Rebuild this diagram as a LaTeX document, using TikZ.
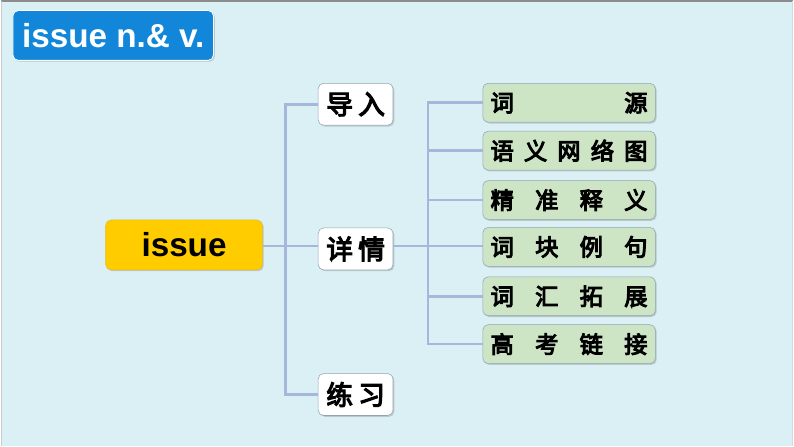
\documentclass[tikz,border=0pt]{standalone}
\usepackage{fontspec}
\setmainfont{Liberation Sans}
\newfontfamily\cjk{Noto Sans CJK SC}[AutoFakeBold=4.5]
\usetikzlibrary{shadows}
\definecolor{bg}{HTML}{DAF0F4}
\definecolor{titleblue}{HTML}{1286D8}
\definecolor{yel}{HTML}{FFCC00}
\definecolor{grn}{HTML}{CDE4C5}
\definecolor{conncol}{HTML}{A3B8DA}
\definecolor{boxline}{HTML}{8FA5B5}
\tikzset{
  shadowed/.style={drop shadow={shadow xshift=1pt,shadow yshift=-1pt,opacity=0.35,fill=gray}},
  titlebox/.style={fill=titleblue,draw=white,line width=0.6pt,rounded corners=4pt,shadowed,
    minimum width={201*0.75pt},minimum height={50*0.75pt},inner sep=0pt,
    font=\fontsize{25}{28}\selectfont\bfseries,text=white},
  mainbox/.style={fill=yel,draw=yel!80!gray,rounded corners=4pt,shadowed,
    minimum width={157*0.75pt},minimum height={50*0.75pt},inner sep=0pt,
    font=\fontsize{25}{28}\selectfont\bfseries},
  midbox/.style={fill=white,draw=boxline,rounded corners=4pt,shadowed,
    minimum width={75*0.75pt},minimum height={42*0.75pt},inner sep=0pt,
    font=\cjk\fontsize{20}{22}\selectfont\bfseries},
  leafbox/.style={fill=grn,draw=boxline,rounded corners=4pt,shadowed,
    minimum width={173*0.75pt},minimum height={39*0.75pt},inner sep=0pt,
    font=\cjk\fontsize{17.5}{20}\selectfont\bfseries},
  conn/.style={draw=conncol,line width=2pt}
}
\newcommand{\spr}[1]{\makebox[118pt][s]{#1}}
\newcommand{\mspr}[1]{\makebox[44pt][s]{#1}}
\begin{document}
\begin{tikzpicture}[x=0.75pt,y=-0.75pt]
\fill[bg] (0,0) rectangle (794,447);
\draw[draw=black!45,line width=1.5pt] (0,0.5) -- (794,0.5);
\draw[draw=black!20,line width=0.8pt] (0.5,0) -- (0.5,447);
\draw[draw=black!15,line width=0.8pt] (793.5,0) -- (793.5,447);
\useasboundingbox (0,0) rectangle (794,447);

\coordinate (j1) at (285,246);
\coordinate (j2) at (428,246);

\node[titlebox] (title) at (112.5,35) {issue n.\& v.};
\node[mainbox] (issue) at (183.5,245) {issue};
\node[midbox] (daoru) at (355.5,104) {\mspr{导\hfill 入}};
\node[midbox] (xq) at (355.5,249) {\mspr{详\hfill 情}};
\node[midbox] (lx) at (355.5,395) {\mspr{练\hfill 习}};

\node[leafbox] (l1) at (569.5,102.5) {\spr{词\hfill 源}};
\node[leafbox] (l2) at (569.5,150.5) {\spr{语\hfill 义\hfill 网\hfill 络\hfill 图}};
\node[leafbox] (l3) at (569.5,200) {\spr{精\hfill 准\hfill 释\hfill 义}};
\node[leafbox] (l4) at (569.5,247) {\spr{词\hfill 块\hfill 例\hfill 句}};
\node[leafbox] (l5) at (569.5,296.5) {\spr{词\hfill 汇\hfill 拓\hfill 展}};
\node[leafbox] (l6) at (569.5,344.5) {\spr{高\hfill 考\hfill 链\hfill 接}};

\draw[conn] (issue.east |- j1) -- (j1) -- (xq.west |- j1);
\draw[conn] (daoru.west) -- (daoru.west -| j1) -- (lx.west -| j1) -- (lx.west);
\draw[conn] (xq.east |- j2) -- (j2) -- (l4.west |- j2);
\draw[conn] (l1.west) -- (l1.west -| j2) -- (l6.west -| j2) -- (l6.west);
\draw[conn] (l2.west) -- (l2.west -| j2);
\draw[conn] (l3.west) -- (l3.west -| j2);
\draw[conn] (l5.west) -- (l5.west -| j2);
\end{tikzpicture}
\end{document}
